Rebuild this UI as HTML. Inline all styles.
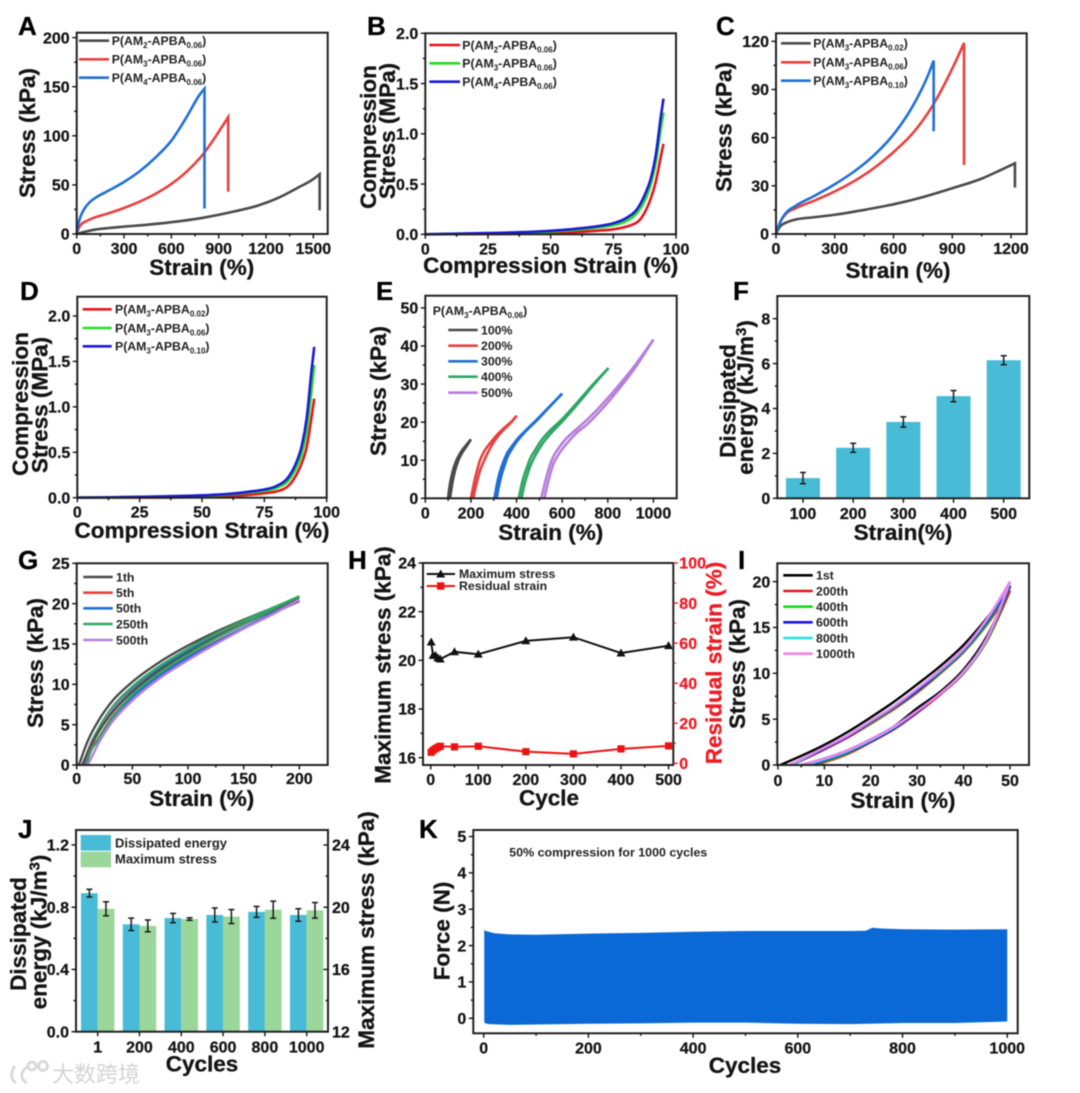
<!DOCTYPE html>
<html lang="en">
<head>
<meta charset="utf-8">
<title>Hydrogel mechanical properties figure</title>
<style>
html,body{margin:0;padding:0;background:#fff;}
svg{display:block;filter:blur(0.45px);}
text{font-family:"Liberation Sans",Arial,sans-serif;font-weight:700;fill:#141414;}
.letter{font-size:26px;fill:#000;stroke:#000;stroke-width:.3px;}
.title{font-size:22.5px;text-anchor:middle;stroke:#141414;stroke-width:.3px;}
.leg{font-size:12.3px;fill:#222;}
.sub{font-size:8px;}
.tick{font-size:16px;stroke:#141414;stroke-width:.25px;}
</style>
</head>
<body>
<svg id="figure" xmlns="http://www.w3.org/2000/svg" width="1080" height="1093" viewBox="0 0 1080 1093">
<rect width="1080" height="1093" fill="#fff"/>
<g id="charts"></g>

<g>
<text class="letter" x="18" y="35">A</text>
<text class="letter" x="367" y="35">B</text>
<text class="letter" x="716" y="35">C</text>
<text class="letter" x="20" y="300">D</text>
<text class="letter" x="376" y="300">E</text>
<text class="letter" x="733" y="300">F</text>
<text class="letter" x="18" y="569">G</text>
<text class="letter" x="348" y="569">H</text>
<text class="letter" x="738" y="569">I</text>
<text class="letter" x="18" y="838">J</text>
<text class="letter" x="419" y="838">K</text>
</g>

<g>
<text class="title" transform="translate(35,133) rotate(-90)">Stress (kPa)</text>
<text class="title" x="201.7" y="275">Strain (%)</text>
<text class="title" transform="translate(376,137) rotate(-90)">Compression</text>
<text class="title" transform="translate(395,131) rotate(-90)">Stress (MPa)</text>
<text class="title" x="550.7" y="273">Compression Strain (%)</text>
<text class="title" transform="translate(731.7,127) rotate(-90)">Stress (kPa)</text>
<text class="title" x="898" y="278">Strain (%)</text>
<text class="title" transform="translate(28,404) rotate(-90)">Compression</text>
<text class="title" transform="translate(47.7,405) rotate(-90)">Stress (MPa)</text>
<text class="title" x="202" y="538">Compression Strain (%)</text>
<text class="title" transform="translate(386,391) rotate(-90)">Stress (kPa)</text>
<text class="title" x="550.7" y="540">Strain (%)</text>
<text class="title" transform="translate(735.7,401) rotate(-90)">Dissipated</text>
<text class="title" transform="translate(753,397.5) rotate(-90)">energy (kJ/m<tspan dy="-7" font-size="15">3</tspan><tspan dy="7">)</tspan></text>
<text class="title" x="903" y="540">Strain(%)</text>
<text class="title" transform="translate(43,663) rotate(-90)">Stress (kPa)</text>
<text class="title" x="201.7" y="806">Strain (%)</text>
<text class="title" transform="translate(390.7,665) rotate(-90)">Maximum stress (kPa)</text>
<text class="title" transform="translate(721.7,663) rotate(-90)" style="fill:#ec1c24;stroke:#ec1c24">Residual strain (%)</text>
<text class="title" x="549" y="805.7">Cycle</text>
<text class="title" transform="translate(745,664) rotate(-90)">Stress (kPa)</text>
<text class="title" x="903" y="808">Strain (%)</text>
<text class="title" transform="translate(26,934) rotate(-90)">Dissipated</text>
<text class="title" transform="translate(46.7,932) rotate(-90)">energy (kJ/m<tspan dy="-7" font-size="15">3</tspan><tspan dy="7">)</tspan></text>
<text class="title" transform="translate(374,930) rotate(-90)">Maximum stress (kPa)</text>
<text class="title" x="202" y="1071.7">Cycles</text>
<text class="title" transform="translate(449.3,931) rotate(-90)">Force (N)</text>
<text class="title" x="745" y="1073">Cycles</text>
</g>

<g stroke-width="2.6" fill="none">
<line x1="79" x2="109" y1="40.7" y2="40.7" stroke="#4a4a4a"/>
<line x1="79" x2="109" y1="59.3" y2="59.3" stroke="#e8403f"/>
<line x1="79" x2="109" y1="77.7" y2="77.7" stroke="#1f6fd6"/>
<text class="leg" x="111.7" y="45">P(AM<tspan class="sub" dy="3">2</tspan><tspan dy="-3">-APBA</tspan><tspan class="sub" dy="3">0.06</tspan><tspan dy="-3">)</tspan></text>
<text class="leg" x="111.7" y="63.6">P(AM<tspan class="sub" dy="3">3</tspan><tspan dy="-3">-APBA</tspan><tspan class="sub" dy="3">0.06</tspan><tspan dy="-3">)</tspan></text>
<text class="leg" x="111.7" y="82">P(AM<tspan class="sub" dy="3">4</tspan><tspan dy="-3">-APBA</tspan><tspan class="sub" dy="3">0.06</tspan><tspan dy="-3">)</tspan></text>
</g>

<g stroke-width="2.6" fill="none">
<line x1="429.3" x2="460" y1="45" y2="45" stroke="#e8131b"/>
<line x1="429.3" x2="460" y1="63.3" y2="63.3" stroke="#22dd22"/>
<line x1="429.3" x2="460" y1="81.7" y2="81.7" stroke="#1a1ad8"/>
<text class="leg" x="462.3" y="49.3">P(AM<tspan class="sub" dy="3">2</tspan><tspan dy="-3">-APBA</tspan><tspan class="sub" dy="3">0.06</tspan><tspan dy="-3">)</tspan></text>
<text class="leg" x="462.3" y="67.6">P(AM<tspan class="sub" dy="3">3</tspan><tspan dy="-3">-APBA</tspan><tspan class="sub" dy="3">0.06</tspan><tspan dy="-3">)</tspan></text>
<text class="leg" x="462.3" y="86">P(AM<tspan class="sub" dy="3">4</tspan><tspan dy="-3">-APBA</tspan><tspan class="sub" dy="3">0.06</tspan><tspan dy="-3">)</tspan></text>
</g>

<g stroke-width="2.6" fill="none">
<line x1="781" x2="810.7" y1="43.3" y2="43.3" stroke="#4a4a4a"/>
<line x1="781" x2="810.7" y1="62.3" y2="62.3" stroke="#e8403f"/>
<line x1="781" x2="810.7" y1="80.7" y2="80.7" stroke="#1f6fd6"/>
<text class="leg" x="813.3" y="47.6">P(AM<tspan class="sub" dy="3">3</tspan><tspan dy="-3">-APBA</tspan><tspan class="sub" dy="3">0.02</tspan><tspan dy="-3">)</tspan></text>
<text class="leg" x="813.3" y="66.6">P(AM<tspan class="sub" dy="3">3</tspan><tspan dy="-3">-APBA</tspan><tspan class="sub" dy="3">0.06</tspan><tspan dy="-3">)</tspan></text>
<text class="leg" x="813.3" y="85">P(AM<tspan class="sub" dy="3">3</tspan><tspan dy="-3">-APBA</tspan><tspan class="sub" dy="3">0.10</tspan><tspan dy="-3">)</tspan></text>
</g>

<g stroke-width="2.6" fill="none">
<line x1="82.7" x2="111.7" y1="309.3" y2="309.3" stroke="#e8131b"/>
<line x1="82.7" x2="111.7" y1="328" y2="328" stroke="#22dd22"/>
<line x1="82.7" x2="111.7" y1="346.3" y2="346.3" stroke="#1a1ad8"/>
<text class="leg" x="115" y="313.6">P(AM<tspan class="sub" dy="3">3</tspan><tspan dy="-3">-APBA</tspan><tspan class="sub" dy="3">0.02</tspan><tspan dy="-3">)</tspan></text>
<text class="leg" x="115" y="332.3">P(AM<tspan class="sub" dy="3">3</tspan><tspan dy="-3">-APBA</tspan><tspan class="sub" dy="3">0.06</tspan><tspan dy="-3">)</tspan></text>
<text class="leg" x="115" y="350.6">P(AM<tspan class="sub" dy="3">3</tspan><tspan dy="-3">-APBA</tspan><tspan class="sub" dy="3">0.10</tspan><tspan dy="-3">)</tspan></text>
</g>

<g stroke-width="2.6" fill="none">
<text class="leg" x="432.7" y="315">P(AM<tspan class="sub" dy="3">3</tspan><tspan dy="-3">-APBA</tspan><tspan class="sub" dy="3">0.06</tspan><tspan dy="-3">)</tspan></text>
<line x1="448.3" x2="477.7" y1="330" y2="330" stroke="#4a4a4a"/>
<line x1="448.3" x2="477.7" y1="345.7" y2="345.7" stroke="#e8403f"/>
<line x1="448.3" x2="477.7" y1="361.3" y2="361.3" stroke="#1f6fd6"/>
<line x1="448.3" x2="477.7" y1="376.7" y2="376.7" stroke="#2ea563"/>
<line x1="448.3" x2="477.7" y1="392.7" y2="392.7" stroke="#b57edc"/>
<text class="leg" x="481" y="334.3">100%</text>
<text class="leg" x="481" y="350">200%</text>
<text class="leg" x="481" y="365.6">300%</text>
<text class="leg" x="481" y="381">400%</text>
<text class="leg" x="481" y="397">500%</text>
</g>

<g stroke-width="2.6" fill="none">
<line x1="83.3" x2="112.7" y1="577" y2="577" stroke="#4a4a4a"/>
<line x1="83.3" x2="112.7" y1="592.7" y2="592.7" stroke="#e8403f"/>
<line x1="83.3" x2="112.7" y1="608.3" y2="608.3" stroke="#1f6fd6"/>
<line x1="83.3" x2="112.7" y1="624" y2="624" stroke="#2ea563"/>
<line x1="83.3" x2="112.7" y1="640" y2="640" stroke="#b57edc"/>
<text class="leg" x="116" y="581.3">1th</text>
<text class="leg" x="116" y="597">5th</text>
<text class="leg" x="116" y="612.6">50th</text>
<text class="leg" x="116" y="628.3">250th</text>
<text class="leg" x="116" y="644.3">500th</text>
</g>

<g>
<line x1="426.7" x2="455" y1="574" y2="574" stroke="#111" stroke-width="2"/>
<polygon points="440.7,569.5 445.2,577.5 436.2,577.5" fill="#111"/>
<line x1="426.7" x2="455" y1="586" y2="586" stroke="#ee1111" stroke-width="2"/>
<rect x="437" y="582.3" width="7.4" height="7.4" fill="#ee1111"/>
<text class="leg" x="459" y="578.2">Maximum stress</text>
<text class="leg" x="459" y="590.2">Residual strain</text>
</g>

<g stroke-width="2.6" fill="none">
<line x1="783.3" x2="812.7" y1="575.3" y2="575.3" stroke="#000"/>
<line x1="783.3" x2="812.7" y1="591" y2="591" stroke="#e4131c"/>
<line x1="783.3" x2="812.7" y1="606.7" y2="606.7" stroke="#17d91a"/>
<line x1="783.3" x2="812.7" y1="622.3" y2="622.3" stroke="#1717e0"/>
<line x1="783.3" x2="812.7" y1="638" y2="638" stroke="#1fe3e3"/>
<line x1="783.3" x2="812.7" y1="653.7" y2="653.7" stroke="#ee82ee"/>
<text class="leg" x="816" y="579.6">1st</text>
<text class="leg" x="816" y="595.3">200th</text>
<text class="leg" x="816" y="611">400th</text>
<text class="leg" x="816" y="626.6">600th</text>
<text class="leg" x="816" y="642.3">800th</text>
<text class="leg" x="816" y="658">1000th</text>
</g>

<g>
<rect x="80.7" y="835" width="30.3" height="15.7" fill="#48bcd6"/>
<rect x="80.7" y="851.7" width="30.3" height="15.6" fill="#9bd69a"/>
<text class="leg" x="115" y="847.3" style="font-size:13px">Dissipated energy</text>
<text class="leg" x="115" y="863.3" style="font-size:13px">Maximum stress</text>
</g>

<text class="leg" x="509.3" y="856.7" textLength="198" lengthAdjust="spacingAndGlyphs">50% compression for 1000 cycles</text>

<g fill="none" stroke="#d8d8d8" stroke-width="2.8">
<path d="M15 1066 C10 1072 11 1080 16 1083"/>
<path d="M27 1067 C20 1072 20 1079 27 1083"/>
<circle cx="32" cy="1066" r="4"/>
<circle cx="43" cy="1066" r="4.5"/>
<text x="52" y="1082" stroke="none" style="font-family:'Liberation Sans','Noto Sans CJK SC',sans-serif;font-size:22px;font-weight:400;fill:#d4d4d4">大数跨境</text>
</g>
</svg>

<script>
// ---------- Panel A ----------
const aTicksX = ['0','300','600','900','1200','1500'];
const aTicksY = ['0','50','100','150','200'];
const aBlackX = [0,100,200,300,450,600,800,1000,1150,1280,1400,1500,1540];
const aBlackY = [0,4,6,7.5,9.5,12,16.5,23,29,37,47,56,61];
const aRedX = [0,10,30,60,100,200,300,400,500,600,700,800,900,960];
const aRedY = [0,5,10,13,16,21,26.5,33,41,51,64,81,104,119];
const aBlueX = [0,10,25,50,80,120,200,300,400,500,600,700,780,810];
const aBlueY = [0,10,18,26,32,37,44,53,64,78,95,120,142,148];
const aBreakY = [24,43,26];

// ---------- Panel B ----------
const bTicksX = ['0','25','50','75','100'];
const bTicksY = ['0.0','0.5','1.0','1.5','2.0'];
const bStrain = [0,25,50,60,70,75,80,85,88,90,92,94,95];
const bRed = [0,.003,.012,.022,.038,.05,.075,.13,.24,.36,.53,.78,.9];
const bGreen = [0,.008,.027,.045,.07,.09,.13,.23,.36,.5,.72,1.06,1.21];
const bBlue = [0,.012,.035,.055,.085,.11,.16,.27,.42,.56,.8,1.18,1.35];

// ---------- Panel C ----------
const cTicksX = ['0','300','600','900','1200'];
const cTicksY = ['0','30','60','90','120'];
const cBlackX = [0,20,50,100,200,300,450,600,750,900,1050,1150,1220];
const cBlackY = [0,4.5,7,9,10.5,12,15,18.5,23,28.5,34.5,40,44];
const cRedX = [0,20,50,100,200,300,400,500,600,700,800,900,960];
const cRedY = [0,7,12.5,16,21,26.5,33,41,51,63,80,103,119];
const cBlueX = [0,20,50,100,200,300,400,500,600,700,780,805];
const cBlueY = [0,7,13,17.5,24,31,39,49,62,80,100,108];
const cBreakY = [29,43,64];

// ---------- Panel D ----------
const dTicksX = ['0','25','50','75','100'];
const dTicksY = ['0.0','0.5','1.0','1.5','2.0'];
const dStrain = [0,25,50,60,70,75,80,85,88,90,92,94,95];
const dRed = [0,.001,.01,.02,.035,.05,.07,.14,.26,.38,.56,.9,1.09];
const dGreen = [0,.006,.022,.035,.06,.075,.11,.2,.34,.48,.74,1.2,1.46];
const dBlue = [0,.01,.026,.04,.07,.09,.13,.24,.4,.57,.88,1.42,1.66];

// ---------- Panel E ----------
const eTicksX = ['0','200','400','600','800','1000'];
const eTicksY = ['0','10','20','30','40','50'];
const e100LoadX = [100,105,112,120,130,145,160,180,200];
const e100LoadY = [0,2.5,5,7,9,11,12.5,14,15.5];
const e100UnloadX = [108,112,120,130,145,160,180,200];
const e100UnloadY = [0,1.5,4.5,7.2,10,11.8,13.6,15.5];
const e200LoadX = [200,210,220,230,240,255,270,291,320,350,379,400];
const e200LoadY = [0,3,5.7,8,10,12,13.4,15,17,18.7,20.2,21.7];
const e200UnloadX = [210,220,230,240,255,270,291,320,350,379,400];
const e200UnloadY = [0,2.8,5.2,7.3,9.5,11.5,13.9,16.4,18.4,20.1,21.7];
const e300LoadX = [303,312,322,333,345,360,380,400,440,488,540,600];
const e300LoadY = [0,3,5.8,8,10,12,13.7,15.3,17.8,20.6,23.8,27.5];
const e300UnloadX = [313,322,333,345,360,380,400,440,488,540,600];
const e300UnloadY = [0,3,5.8,8.2,10.8,13,14.8,17.6,20.4,23.7,27.5];
const e400LoadX = [410,420,432,445,459,480,510,550,590,664,737,803];
const e400LoadY = [0,3,5.8,8,10.3,12.5,15.3,18,20.2,25,30,34.2];
const e400UnloadX = [422,432,445,459,480,510,550,590,664,737,803];
const e400UnloadY = [0,3,5.8,8.3,11,14,17,19.5,24.5,29.7,34.2];
const e500LoadX = [508,520,532,545,560,585,612,660,707,780,853,920,1000];
const e500LoadY = [0,3,5.8,8.5,10.8,13.2,15.3,18,20.5,25,30,35,41.7];
const e500UnloadX = [522,532,545,560,585,612,660,707,780,853,920,1000];
const e500UnloadY = [0,2.7,5.8,8.8,11.6,13.8,17,19.3,23.8,29,34.3,41.7];

// ---------- Panel F ----------
const fCategories = ['100','200','300','400','500'];
const fTicksY = ['0','2','4','6','8'];
const fValues = [0.9,2.25,3.4,4.55,6.15];
const fErrors = [0.25,0.2,0.23,0.25,0.2];

// ---------- Panel G ----------
const gTicksX = ['0','50','100','150','200'];
const gTicksY = ['0','5','10','15','20','25'];
const gStrain = [10,20,30,50,75,100,125,150,175,200];
const gLoadStart = [2,6,6,7,7];
const gUnloadStart = [5,8,8.5,9,9.5];
const gLoad1th = [3,5.6,7.6,10.3,12.8,14.8,16.5,18,19.4,20.8];
const gLoad5th = [1.7,4.5,6.7,9.5,12.1,14.2,16,17.6,19,20.3];
const gLoad50th = [1.6,4.4,6.5,9.3,12,14.1,15.9,17.5,19,20.4];
const gLoad250th = [1.6,4.6,6.8,9.7,12.3,14.4,16.3,17.9,19.4,20.9];
const gLoad500th = [1.5,4.2,6.4,9.2,11.8,13.9,15.7,17.4,19,20.5];
const gUnload1th = [1.6,4.2,6.2,9.1,11.8,13.9,15.8,17.5,19.1,20.8];
const gUnload5th = [1,3.4,5.6,8.6,11.3,13.4,15.3,17,18.7,20.3];
const gUnload50th = [.8,3.2,5.4,8.4,11.1,13.3,15.2,17,18.7,20.4];
const gUnload250th = [.6,3.3,5.5,8.7,11.5,13.7,15.7,17.5,19.2,20.9];
const gUnload500th = [.1,2.8,5,8,10.8,13,15,16.9,18.6,20.5];

// ---------- Panel H ----------
const hTicksX = ['0','100','200','300','400','500'];
const hTicksY = ['16','18','20','22','24'];
const hTicksRight = ['0','20','40','60','80','100'];
const hCycles = [1,5,10,15,20,50,100,200,300,400,500];
const hMaxStress = [20.75,20.2,20.2,20.1,20.05,20.35,20.25,20.8,20.95,20.3,20.6];
const hResidual = [5.5,6.5,7.3,8,8.5,8.2,8.5,5.8,4.7,7.2,8.7];

// ---------- Panel I ----------
const iTicksX = ['0','10','20','30','40','50'];
const iTicksY = ['0','5','10','15','20'];
const iStrain = [10,15,20,25,30,35,40,45,50];
const iLoadStart = [0.5,3,3,3,3,2.5];
const iUnloadStart = [5,8,7.5,7,6,5];
const iLoad1st = [2.2,3.6,5.2,6.9,8.8,10.8,13.1,16,19.4];
const iLoad200th = [1.7,3,4.5,6.1,7.9,10,12.3,15.3,19];
const iLoad400th = [1.8,3.1,4.6,6.2,8,10.1,12.4,15.4,19.5];
const iLoad600th = [1.8,3.1,4.7,6.3,8.1,10.2,12.5,15.6,19.6];
const iLoad800th = [1.9,3.2,4.8,6.4,8.3,10.3,12.6,15.8,19.9];
const iLoad1000th = [1.9,3.2,4.8,6.4,8.3,10.4,12.7,15.9,20];
const iUnload1st = [.7,1.6,2.8,4.2,6.2,8,10.4,14,19.4];
const iUnload200th = [.3,1.2,2.5,3.9,5.7,7.7,10,13.5,19];
const iUnload400th = [.4,1.3,2.6,4,5.8,7.8,10.1,13.6,19.5];
const iUnload600th = [.5,1.4,2.6,4,5.8,7.8,10.1,13.7,19.6];
const iUnload800th = [.6,1.5,2.7,4.1,5.9,7.8,10.1,13.7,19.9];
const iUnload1000th = [.7,1.6,2.8,4.2,5.9,7.8,10.2,13.8,20];

// ---------- Panel J ----------
const jCategories = ['1','200','400','600','800','1000'];
const jTicksY = ['0.0','0.4','0.8','1.2'];
const jTicksRight = ['12','16','20','24'];
const jEnergy = [0.89,0.69,0.73,0.75,0.77,0.75];
const jEnergyErr = [0.025,0.04,0.03,0.045,0.035,0.04];
const jStress = [19.9,18.8,19.24,19.4,19.84,19.8];
const jStressErr = [0.45,0.38,0.08,0.45,0.55,0.5];

// ---------- Panel K ----------
const kTicksX = ['0','200','400','600','800','1000'];
const kTicksY = ['0','1','2','3','4','5'];
const kTopCycles = [1,3,10,20,50,100,200,300,400,500,600,700,730,742,760,800,900,1000];
const kTopForce = [2.45,2.4,2.38,2.34,2.31,2.3,2.33,2.35,2.38,2.4,2.4,2.4,2.41,2.49,2.47,2.45,2.44,2.45];
const kBottomCycles = [1,3,10,50,100,200,300,400,500,600,700,800,900,1000];
const kBottomForce = [-.11,-.14,-.16,-.18,-.17,-.15,-.14,-.12,-.12,-.15,-.16,-.13,-.13,-.09];

// ---------- Drawing helpers ----------
const NS = 'http://www.w3.org/2000/svg';
const root = document.getElementById('charts');

function mk(tag, attrs, parent, name) {
  const el = document.createElementNS(NS, tag);
  for (const k in attrs) el.setAttribute(k, attrs[k]);
  
  
  parent.appendChild(el);
  return el;
}

function panel(name, l, r, t, b, xd, yd) {
  const g = mk('g', {}, root, name);
  return {
    g, l, r, t, b,
    x: v => l + (v - xd[0]) / (xd[1] - xd[0]) * (r - l),
    y: v => b - (v - yd[0]) / (yd[1] - yd[0]) * (b - t)
  };
}

function frame(p) {
  mk('rect', {x: p.l, y: p.t, width: p.r - p.l, height: p.b - p.t, fill: 'none', stroke: '#222', 'stroke-width': 2}, p.g, 'plot-frame');
}

function tick(p, x1, y1, x2, y2, color, name) {
  mk('line', {x1, y1, x2, y2, stroke: color, 'stroke-width': 1.4}, p.g, name);
}

function label(p, x, y, txt, anchor, color, name) {
  const t = mk('text', {x, y, class: 'tick', 'text-anchor': anchor}, p.g, name);
  if (color) { t.style.fill = color; t.style.stroke = color; }
  t.textContent = txt;
}

function midpoints(vals) {
  const out = [];
  for (let i = 0; i + 1 < vals.length; i++) out.push((vals[i] + vals[i + 1]) / 2);
  return out;
}

function xAxis(p, labels, off) {
  const vals = labels.map(Number);
  vals.forEach((v, i) => {
    const px = p.x(v);
    tick(p, px, p.b, px, p.b + 4.5, '#111', 'x-tick');
    label(p, px, p.b + (off || 20), labels[i], 'middle', null, 'x-tick-label');
  });
  midpoints(vals).forEach(v => tick(p, p.x(v), p.b, p.x(v), p.b + 2.5, '#111', 'x-minor-tick'));
}

function yAxis(p, labels, scale) {
  const vals = labels.map(Number);
  const sy = scale || p.y;
  vals.forEach((v, i) => {
    tick(p, p.l - 4.5, sy(v), p.l, sy(v), '#111', 'y-tick');
    label(p, p.l - 7, sy(v) + 5.7, labels[i], 'end', null, 'y-tick-label');
  });
  midpoints(vals).forEach(v => tick(p, p.l - 2.5, sy(v), p.l, sy(v), '#111', 'y-minor-tick'));
}

function rightAxis(p, labels, scale, color, gap, inward) {
  const vals = labels.map(Number);
  const dir = inward ? -1 : 1;
  vals.forEach((v, i) => {
    tick(p, p.r, scale(v), p.r + dir * 4.5, scale(v), color, 'right-y-tick');
    label(p, p.r + gap, scale(v) + 5.7, labels[i], 'start', color, 'right-y-tick-label');
  });
  midpoints(vals).forEach(v => tick(p, p.r, scale(v), p.r + dir * 2.5, scale(v), color, 'right-y-minor-tick'));
}

// Monotone cubic interpolation through the data points
function monotonePath(pts) {
  const n = pts.length;
  const sl = [];
  for (let i = 0; i < n - 1; i++) sl.push((pts[i + 1][1] - pts[i][1]) / (pts[i + 1][0] - pts[i][0]));
  const m = new Array(n);
  for (let i = 1; i < n - 1; i++) {
    const h0 = pts[i][0] - pts[i - 1][0], h1 = pts[i + 1][0] - pts[i][0];
    const s0 = sl[i - 1], s1 = sl[i];
    const q = (s0 * h1 + s1 * h0) / (h0 + h1);
    m[i] = (Math.sign(s0) + Math.sign(s1)) * Math.min(Math.abs(s0), Math.abs(s1), 0.5 * Math.abs(q)) || 0;
  }
  m[0] = n > 2 ? (3 * sl[0] - m[1]) / 2 : sl[0];
  m[n - 1] = n > 2 ? (3 * sl[n - 2] - m[n - 2]) / 2 : sl[0];
  let d = 'M' + pts[0][0].toFixed(2) + ' ' + pts[0][1].toFixed(2);
  for (let i = 0; i < n - 1; i++) {
    const dx = (pts[i + 1][0] - pts[i][0]) / 3;
    d += 'C' + (pts[i][0] + dx).toFixed(2) + ' ' + (pts[i][1] + dx * m[i]).toFixed(2) + ' ' +
         (pts[i + 1][0] - dx).toFixed(2) + ' ' + (pts[i + 1][1] - dx * m[i + 1]).toFixed(2) + ' ' +
         pts[i + 1][0].toFixed(2) + ' ' + pts[i + 1][1].toFixed(2);
  }
  return d;
}

function curve(p, xs, ys, color, width, name, dropTo) {
  const pts = xs.map((v, i) => [p.x(v), p.y(ys[i])]);
  let d = monotonePath(pts);
  if (dropTo !== undefined) d += 'L' + pts[pts.length - 1][0].toFixed(2) + ' ' + p.y(dropTo).toFixed(2);
  mk('path', {d, fill: 'none', stroke: color, 'stroke-width': width, 'stroke-linejoin': 'miter'}, p.g, name);
}

function errorBar(p, px, top, bottom, name) {
  mk('line', {x1: px, x2: px, y1: top, y2: bottom, stroke: '#1a1a1a', 'stroke-width': 1.5}, p.g, name);
  mk('line', {x1: px - 3, x2: px + 3, y1: top, y2: top, stroke: '#1a1a1a', 'stroke-width': 1.5}, p.g, name + '-cap');
  mk('line', {x1: px - 3, x2: px + 3, y1: bottom, y2: bottom, stroke: '#1a1a1a', 'stroke-width': 1.5}, p.g, name + '-cap');
}

const GRAY = '#4a4a4a', RED = '#e8403f', BLUE = '#1f6fd6', GREEN2 = '#2ea563', PURPLE = '#b57edc';
const PURE_RED = '#e8131b', PURE_GREEN = '#22dd22', PURE_BLUE = '#1a1ad8';
const LW = 2.6;

// A
const pA = panel('panel-a', 76.7, 327.7, 32.7, 234, [0, 1591], [0, 205]);
curve(pA, aBlackX, aBlackY, GRAY, LW, 'series-am2', aBreakY[0]);
curve(pA, aRedX, aRedY, RED, LW, 'series-am3', aBreakY[1]);
curve(pA, aBlueX, aBlueY, BLUE, LW, 'series-am4', aBreakY[2]);
frame(pA); xAxis(pA, aTicksX); yAxis(pA, aTicksY);

// B
const pB = panel('panel-b', 425.3, 676, 33.3, 234.3, [0, 100], [0, 2]);
curve(pB, bStrain, bRed, PURE_RED, LW, 'series-am2');
curve(pB, bStrain, bGreen, PURE_GREEN, LW, 'series-am3');
curve(pB, bStrain, bBlue, PURE_BLUE, LW, 'series-am4');
frame(pB); xAxis(pB, bTicksX); yAxis(pB, bTicksY);

// C
const pC = panel('panel-c', 776, 1026.7, 33.3, 234, [0, 1280], [0, 125]);
curve(pC, cBlackX, cBlackY, GRAY, LW, 'series-apba002', cBreakY[0]);
curve(pC, cRedX, cRedY, RED, LW, 'series-apba006', cBreakY[1]);
curve(pC, cBlueX, cBlueY, BLUE, LW, 'series-apba010', cBreakY[2]);
frame(pC); xAxis(pC, cTicksX); yAxis(pC, cTicksY);

// D
const pD = panel('panel-d', 77.3, 326.7, 296.7, 497.7, [0, 100], [0, 2.212]);
curve(pD, dStrain, dRed, PURE_RED, LW, 'series-apba002');
curve(pD, dStrain, dGreen, PURE_GREEN, LW, 'series-apba006');
curve(pD, dStrain, dBlue, PURE_BLUE, LW, 'series-apba010');
frame(pD); xAxis(pD, dTicksX); yAxis(pD, dTicksY);

// E
const pE = panel('panel-e', 425.3, 676.7, 295.7, 498.3, [0, 1102], [0, 53.2]);
curve(pE, e100LoadX, e100LoadY, GRAY, LW, 'series-100-load');
curve(pE, e100UnloadX, e100UnloadY, GRAY, LW, 'series-100-unload');
curve(pE, e200LoadX, e200LoadY, RED, LW, 'series-200-load');
curve(pE, e200UnloadX, e200UnloadY, RED, LW, 'series-200-unload');
curve(pE, e300LoadX, e300LoadY, BLUE, LW, 'series-300-load');
curve(pE, e300UnloadX, e300UnloadY, BLUE, LW, 'series-300-unload');
curve(pE, e400LoadX, e400LoadY, GREEN2, LW, 'series-400-load');
curve(pE, e400UnloadX, e400UnloadY, GREEN2, LW, 'series-400-unload');
curve(pE, e500LoadX, e500LoadY, PURPLE, LW, 'series-500-load');
curve(pE, e500UnloadX, e500UnloadY, PURPLE, LW, 'series-500-unload');
frame(pE); xAxis(pE, eTicksX); yAxis(pE, eTicksY);

// F
const pF = panel('panel-f', 777.3, 1029.3, 296, 498.3, [-0.512, 4.51], [0, 9.01]);
fCategories.forEach((c, i) => {
  const cx = pF.x(i);
  mk('rect', {x: cx - 17, y: pF.y(fValues[i]), width: 34, height: pF.b - pF.y(fValues[i]), fill: '#48bcd6'}, pF.g, 'bar-' + c);
  errorBar(pF, cx, pF.y(fValues[i] + fErrors[i]), pF.y(fValues[i] - fErrors[i]), 'error-bar-' + c);
  tick(pF, cx, pF.b, cx, pF.b + 4.5, '#111', 'x-tick');
  label(pF, cx, pF.b + 20.5, c, 'middle', null, 'x-tick-label');
});
frame(pF); yAxis(pF, fTicksY);

// G
const pG = panel('panel-g', 76.7, 327.7, 563.3, 765, [0, 225.5], [0, 25]);
const gColors = [GRAY, RED, BLUE, GREEN2, PURPLE];
const gNames = ['1th', '5th', '50th', '250th', '500th'];
[gLoad1th, gLoad5th, gLoad50th, gLoad250th, gLoad500th].forEach((ys, i) => {
  curve(pG, [gLoadStart[i]].concat(gStrain), [0].concat(ys), gColors[i], 2.4, 'series-' + gNames[i] + '-load');
});
[gUnload1th, gUnload5th, gUnload50th, gUnload250th, gUnload500th].forEach((ys, i) => {
  curve(pG, [gUnloadStart[i]].concat(gStrain), [0].concat(ys), gColors[i], 2.4, 'series-' + gNames[i] + '-unload');
});
frame(pG); xAxis(pG, gTicksX, 19); yAxis(pG, gTicksY);

// H
const pH = panel('panel-h', 423, 673.3, 563, 765, [-16.2, 510], [15.7, 24]);
const hRightY = v => 763.3 - v * 2.003;
const hStressPts = hCycles.map((c, i) => pH.x(c).toFixed(2) + ',' + pH.y(hMaxStress[i]).toFixed(2)).join(' ');
const hResidualPts = hCycles.map((c, i) => pH.x(c).toFixed(2) + ',' + hRightY(hResidual[i]).toFixed(2)).join(' ');
mk('polyline', {points: hStressPts, fill: 'none', stroke: '#111', 'stroke-width': 2}, pH.g, 'series-maximum-stress');
mk('polyline', {points: hResidualPts, fill: 'none', stroke: '#ee1111', 'stroke-width': 2}, pH.g, 'series-residual-strain');
hCycles.forEach((c, i) => {
  const px = pH.x(c), py = pH.y(hMaxStress[i]);
  mk('polygon', {points: px + ',' + (py - 4.6) + ' ' + (px + 4.5) + ',' + (py + 3.4) + ' ' + (px - 4.5) + ',' + (py + 3.4), fill: '#111'}, pH.g, 'point-maximum-stress');
  mk('rect', {x: px - 3.6, y: hRightY(hResidual[i]) - 3.6, width: 7.2, height: 7.2, fill: '#ee1111'}, pH.g, 'point-residual-strain');
});
frame(pH); xAxis(pH, hTicksX); yAxis(pH, hTicksY);
rightAxis(pH, hTicksRight, hRightY, '#ec1c24', 6, false);

// I
const pI = panel('panel-i', 777.3, 1029, 563.3, 765, [-0.15, 54.1], [0, 22]);
const iColors = ['#000', '#e4131c', '#17d91a', '#1717e0', '#1fe3e3', '#ee82ee'];
const iNames = ['1st', '200th', '400th', '600th', '800th', '1000th'];
const iLoads = [iLoad1st, iLoad200th, iLoad400th, iLoad600th, iLoad800th, iLoad1000th];
const iUnloads = [iUnload1st, iUnload200th, iUnload400th, iUnload600th, iUnload800th, iUnload1000th];
iNames.forEach((n, i) => {
  curve(pI, [iLoadStart[i]].concat(iStrain), [0].concat(iLoads[i]), iColors[i], 2.4, 'series-' + n + '-load');
  curve(pI, [iUnloadStart[i]].concat(iStrain), [0].concat(iUnloads[i]), iColors[i], 2.4, 'series-' + n + '-unload');
});
frame(pI); xAxis(pI, iTicksX, 21); yAxis(pI, iTicksY);

// J
const pJ = panel('panel-j', 76, 328, 830, 1031.7, [-0.519, 5.51], [0, 1.296]);
const jRightY = v => 1031.7 - (v - 12) * 15.56;
jCategories.forEach((c, i) => {
  const cx = pJ.x(i);
  mk('rect', {x: cx - 16.7, y: pJ.y(jEnergy[i]), width: 16.7, height: pJ.b - pJ.y(jEnergy[i]), fill: '#48bcd6'}, pJ.g, 'bar-energy-' + c);
  mk('rect', {x: cx, y: jRightY(jStress[i]), width: 16.7, height: pJ.b - jRightY(jStress[i]), fill: '#9bd69a'}, pJ.g, 'bar-stress-' + c);
  errorBar(pJ, cx - 8.3, pJ.y(jEnergy[i] + jEnergyErr[i]), pJ.y(jEnergy[i] - jEnergyErr[i]), 'error-bar-energy-' + c);
  errorBar(pJ, cx + 8.3, jRightY(jStress[i] + jStressErr[i]), jRightY(jStress[i] - jStressErr[i]), 'error-bar-stress-' + c);
  tick(pJ, cx, pJ.b, cx, pJ.b + 4.5, '#111', 'x-tick');
  label(pJ, cx, pJ.b + 21, c, 'middle', null, 'x-tick-label');
});
frame(pJ); yAxis(pJ, jTicksY);
rightAxis(pJ, jTicksRight, jRightY, '#111', 4, true);

// K
const pK = panel('panel-k', 473.3, 1017.7, 830, 1033.3, [-19.9, 1020], [-0.413, 5.18]);
const kTop = kTopCycles.map((c, i) => pK.x(c).toFixed(2) + ',' + pK.y(kTopForce[i]).toFixed(2));
const kBottom = kBottomCycles.map((c, i) => pK.x(c).toFixed(2) + ',' + pK.y(kBottomForce[i]).toFixed(2)).reverse();
mk('polygon', {points: kTop.concat(kBottom).join(' '), fill: '#0a69d6'}, pK.g, 'series-force-band');
frame(pK); xAxis(pK, kTicksX); yAxis(pK, kTicksY);
</script>
</body>
</html>
